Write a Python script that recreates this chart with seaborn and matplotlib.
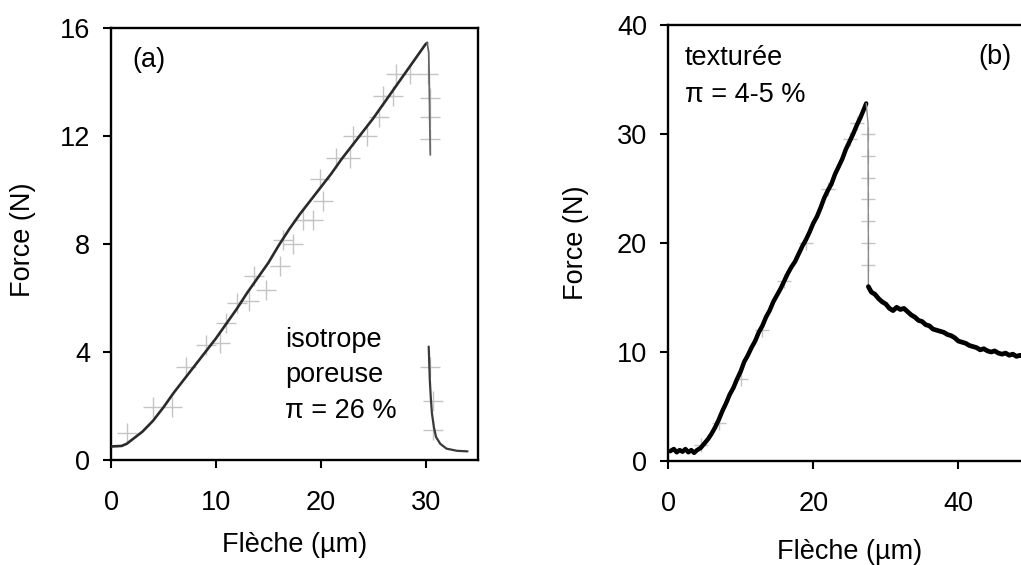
import matplotlib
matplotlib.use("Agg")
import matplotlib.pyplot as plt
import numpy as np
import seaborn as sns

# ---------------- data : panel (a) isotrope poreuse ----------------
a_load_x = [0, 1, 1.5, 2, 3, 4, 5, 6, 7, 8, 9, 10, 11, 12, 13, 14, 15, 16, 17, 18, 19,
            20, 21, 22, 23, 24, 25, 26, 27, 28, 29, 30, 30.15]
a_load_y = [0.5, 0.52, 0.6, 0.75, 1.05, 1.45, 1.95, 2.5, 3.0, 3.5, 4.0, 4.5, 5.05, 5.6,
            6.2, 6.75, 7.3, 7.95, 8.55, 9.1, 9.6, 10.1, 10.6, 11.15, 11.65, 12.15,
            12.65, 13.2, 13.75, 14.3, 14.85, 15.4, 15.45]
a_drop_x = [30.15, 30.3, 30.35, 30.4, 30.45]
a_drop_y = [15.45, 15.1, 14.0, 12.6, 11.3]
a_tail_x = [30.3, 30.35, 30.4, 30.5, 30.6, 30.8, 31.0, 31.4, 32.0, 33.0, 34.0]
a_tail_y = [4.2, 3.6, 3.0, 2.3, 1.75, 1.2, 0.85, 0.6, 0.42, 0.34, 0.32]
a_mark_x = [1.5, 4.0, 5.8, 7.2, 9.1, 10.4, 11.0, 12.0, 13.2, 13.6, 14.8, 16.1, 16.4,
            17.4, 18.3, 19.3, 20.2, 19.9, 21.5, 22.8, 23.1, 24.4, 25.6, 25.9, 26.9,
            27.2, 28.5, 30.2, 30.4, 30.4, 30.4, 30.4, 30.7, 30.7]
a_mark_y = [0.99, 1.97, 1.97, 3.46, 4.26, 4.32, 5.06, 5.8, 5.9, 6.8, 6.3, 7.2, 8.15,
            8.0, 8.9, 8.9, 9.6, 10.4, 11.2, 11.2, 12.0, 12.0, 12.7, 13.5, 13.5,
            14.3, 14.3, 14.3, 13.4, 12.7, 11.9, 3.46, 2.2, 1.1]

# ---------------- data : panel (b) texturée ----------------
b_load_x = [0.3, 0.8, 1.2, 1.6, 2, 2.4, 2.8, 3.2, 3.6, 4, 4.5, 5, 5.5, 6, 6.5, 7, 7.5,
            8, 8.5, 9, 9.5, 10, 10.5, 11, 11.5, 12, 12.5, 13, 13.5, 14, 14.5, 15,
            15.5, 16, 16.5, 17, 17.5, 18, 18.5, 19, 19.5, 20, 20.5, 21, 21.5, 22,
            22.5, 23, 23.5, 24, 24.5, 25, 25.5, 26, 26.5, 27, 27.3]
b_load_y = [0.9, 1.1, 0.8, 1.0, 0.85, 1.1, 0.8, 1.0, 0.75, 1.0, 1.2, 1.6, 2.0, 2.5,
            3.1, 3.8, 4.6, 5.3, 6.1, 6.7, 7.5, 8.2, 9.1, 9.7, 10.4, 11.0, 11.8, 12.4,
            13.2, 13.8, 14.6, 15.2, 15.8, 16.5, 17.2, 17.8, 18.3, 19.0, 19.7, 20.3,
            21.0, 21.8, 22.4, 23.2, 24.1, 24.8, 25.4, 26.3, 27.0, 27.7, 28.6, 29.3,
            30.0, 30.8, 31.5, 32.3, 32.8]
b_drop_x = [27.3, 27.55, 27.6, 27.6]
b_drop_y = [32.8, 31.0, 20.0, 16.2]
b_post_x = [27.6, 28, 28.5, 29, 29.5, 30, 30.5, 31, 31.5, 32, 32.5, 33, 33.5, 34,
            34.5, 35, 35.5, 36, 36.5, 37, 37.5, 38, 38.5, 39, 39.5, 40, 40.5, 41,
            41.5, 42, 42.5, 43, 43.5, 44, 44.5, 45, 45.5, 46, 46.5, 47, 47.5, 48,
            48.5, 49, 49.5, 50]
b_post_y = [16.0, 15.5, 15.3, 14.9, 14.6, 14.4, 14.0, 13.8, 14.1, 13.9, 14.0, 13.7,
            13.4, 13.2, 12.9, 12.8, 12.5, 12.4, 12.1, 12.0, 11.9, 11.8, 11.6, 11.5,
            11.3, 11.0, 10.9, 10.8, 10.6, 10.5, 10.4, 10.2, 10.3, 10.1, 10.0, 10.1,
            9.9, 9.8, 9.9, 9.7, 9.8, 9.6, 9.7, 9.6, 9.8, 9.7]
b_mark_x = [4.5, 7.0, 10.0, 13.0, 16.0, 19.0, 22.0, 25.0, 26.0, 27.6, 27.6, 27.6,
            27.6, 27.6, 27.6, 27.6]
b_mark_y = [1.5, 3.5, 7.5, 12.0, 16.5, 20.0, 25.0, 29.5, 31.0, 30.0, 28.0, 26.0,
            24.0, 22.0, 20.0, 18.0]

a_xticks = [0, 10, 20, 30]
a_yticks = [0, 4, 8, 12, 16]
b_xticks = [0, 20, 40]
b_yticks = [0, 10, 20, 30, 40]

xlabel = "Flèche (µm)"
ylabel = "Force (N)"

# ---------------- style ----------------
sns.set_theme(style="ticks")
plt.rcParams["font.family"] = ["Liberation Sans", "DejaVu Sans"]
FS = 19.5
plt.rcParams.update({
    "font.size": FS,
    "text.color": "black",
    "axes.labelcolor": "black",
    "xtick.color": "black",
    "ytick.color": "black",
})

W, H = 1021, 565
fig = plt.figure(figsize=(W / 100, H / 100), dpi=100)
fig.patch.set_facecolor("white")


def px_axes(left, right, top, bottom):
    return fig.add_axes([left / W, (H - bottom) / H, (right - left) / W, (bottom - top) / H])


axA = px_axes(111, 478, 28, 460)
axB = px_axes(668, 1031, 25, 461)

line_col = "#2a2a2a"
mark_col = "#c4c4c4"

# panel (a)
sns.scatterplot(x=a_mark_x, y=a_mark_y, ax=axA, marker="+", s=190, color=mark_col,
                linewidth=1.0, zorder=2)
sns.lineplot(x=a_load_x, y=a_load_y, ax=axA, sort=False, estimator=None,
             color=line_col, lw=1.9, zorder=3)
sns.lineplot(x=a_drop_x, y=a_drop_y, ax=axA, sort=False, estimator=None,
             color="#666666", lw=1.3, zorder=3)
sns.lineplot(x=a_tail_x, y=a_tail_y, ax=axA, sort=False, estimator=None,
             color="#3a3a3a", lw=1.6, zorder=3)

# panel (b)
sns.scatterplot(x=b_mark_x, y=b_mark_y, ax=axB, marker="+", s=110, color=mark_col,
                linewidth=1.0, zorder=2)
sns.lineplot(x=b_load_x, y=b_load_y, ax=axB, sort=False, estimator=None,
             color="#000000", lw=3.2, zorder=3)
sns.lineplot(x=b_drop_x, y=b_drop_y, ax=axB, sort=False, estimator=None,
             color="#8a8a8a", lw=1.0, zorder=3)
sns.lineplot(x=b_post_x, y=b_post_y, ax=axB, sort=False, estimator=None,
             color="#000000", lw=3.4, zorder=3)

for ax, xt, yt, xl, yl in [(axA, a_xticks, a_yticks, (0, 35), (0, 16)),
                           (axB, b_xticks, b_yticks, (0, 50), (0, 40))]:
    ax.set_xlim(*xl)
    ax.set_ylim(*yl)
    ax.set_xticks(xt)
    ax.set_yticks(yt)
    ax.set_xticklabels([str(v) for v in xt])
    ax.set_yticklabels([str(v) for v in yt])
    ax.set_facecolor("white")
    for s in ax.spines.values():
        s.set_visible(True)
        s.set_color("black")
        s.set_linewidth(1.7)
    ax.tick_params(axis="both", which="both", direction="out", length=5.5, width=1.5,
                   colors="black", labelcolor="black", labelsize=FS,
                   top=False, right=False)
    ax.tick_params(axis="x", pad=16)
    ax.tick_params(axis="y", pad=9.5)
    ax.set_xlabel(xlabel, fontsize=FS, color="black")
    ax.set_ylabel(ylabel, fontsize=FS, color="black")
    ax.xaxis.label.set_va("center")
    ax.yaxis.label.set_va("center")
    ax.yaxis.label.set_ha("center")

axA.xaxis.set_label_coords(0.50, -0.197)
axA.yaxis.set_label_coords(-0.240, 0.509)
axB.xaxis.set_label_coords(0.501, -0.209)
axB.yaxis.set_label_coords(-0.253, 0.50)

# annotations
tkw = dict(fontsize=FS, ha="left", color="black")
axA.text(2.0, 14.8, "(a)", va="center", **tkw)
axA.text(16.6, 4.2, "isotrope", va="baseline", **tkw)
axA.text(16.6, 2.9, "poreuse", va="baseline", **tkw)
axA.text(16.6, 1.56, "π = 26 %", va="baseline", **tkw)

axB.text(2.3, 36.3, "texturée", va="baseline", **tkw)
axB.text(2.3, 32.9, "π = 4-5 %", va="baseline", **tkw)
axB.text(42.8, 37.1, "(b)", va="center", **tkw)

fig.savefig("out.png", dpi=100, facecolor="white")
